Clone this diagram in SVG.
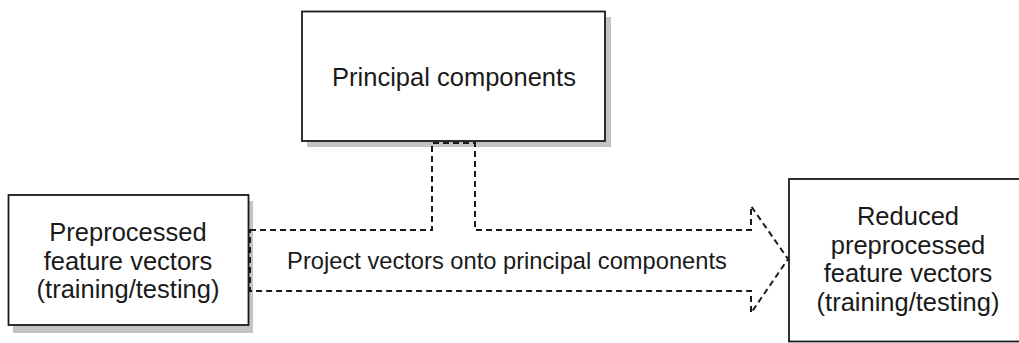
<svg xmlns="http://www.w3.org/2000/svg" width="1019" height="343" viewBox="0 0 1019 343">
<style>
.shadow{fill:#c4c4c4;stroke:none}
.box{fill:#fff;stroke:#1a1a1a;stroke-width:1.8}
.lbl{font-family:"Liberation Sans",Arial,sans-serif;font-size:25.5px;fill:#1a1a1a;text-anchor:middle}
.alb{font-family:"Liberation Sans",Arial,sans-serif;font-size:23.7px;fill:#1a1a1a;text-anchor:middle}
.dash{fill:none;stroke:#1a1a1a;stroke-width:2;stroke-dasharray:6 4}
</style>
<rect width="1019" height="343" fill="#fff"/>
<g id="principal-components">
<rect class="shadow" x="307" y="17" width="304" height="130"/>
<rect class="box" x="302" y="11.5" width="303" height="129.5"/>
<text class="lbl" x="454" y="86">Principal components</text>
</g>
<g id="preprocessed">
<rect class="shadow" x="13" y="201" width="240" height="132"/>
<rect class="box" x="8.5" y="195" width="240" height="130"/>
<text class="lbl" x="128" y="241">Preprocessed</text>
<text class="lbl" x="128" y="269.5">feature vectors</text>
<text class="lbl" x="128" y="298">(training/testing)</text>
</g>
<g id="reduced">
<rect class="box" x="789" y="179" width="260" height="162.5"/>
<text class="lbl" x="908" y="225">Reduced</text>
<text class="lbl" x="908" y="253.5">preprocessed</text>
<text class="lbl" x="908" y="282">feature vectors</text>
<text class="lbl" x="908" y="310.5">(training/testing)</text>
</g>
<g id="connectors">
<path class="dash" d="M250,230 H432 V143 H475 V230 H751 V206 L788,259 L751,313 V291 H250 Z"/>
<text class="alb" x="507" y="269">Project vectors onto principal components</text>
</g>
</svg>
